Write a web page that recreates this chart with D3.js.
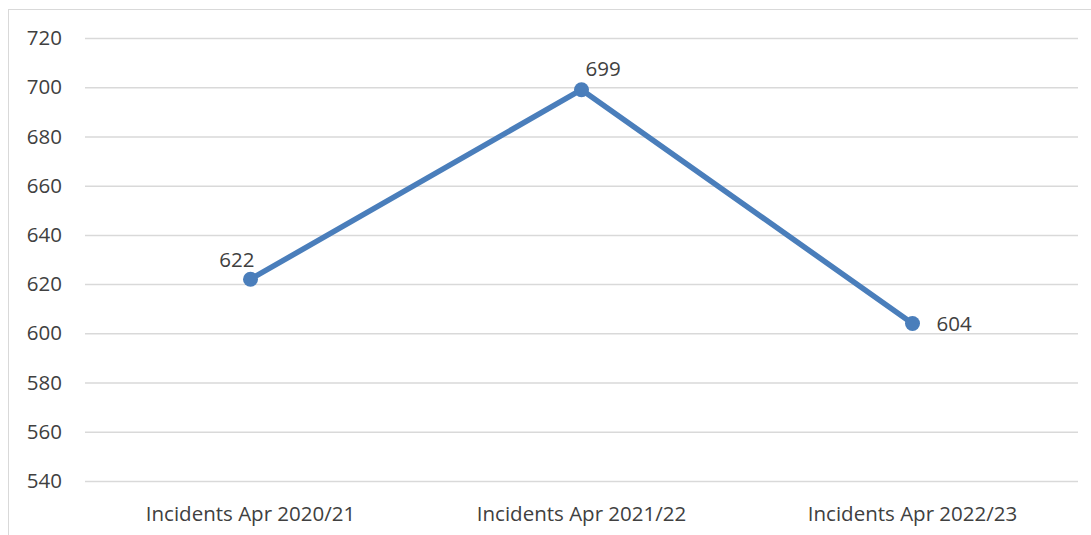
<!DOCTYPE html>
<html>
<head>
<meta charset="utf-8">
<script src="https://cdn.jsdelivr.net/npm/d3@7"></script>
<style>
  body { margin: 0; background: #fff; }
  text { font-family: "Open Sans", "Noto Sans", sans-serif; fill: #404040; }
</style>
</head>
<body>
<svg id="chart" width="1091" height="535"></svg>
<script>
// chart data
const categories = ["Incidents Apr 2020/21", "Incidents Apr 2021/22", "Incidents Apr 2022/23"];
const incidents = [622, 699, 604];
const yTicks = [540, 560, 580, 600, 620, 640, 660, 680, 700, 720];
// where each value label sits relative to its point
const labelSpots = ["above-left", "above-right", "right"];

const svg = d3.select("#chart");
const margin = {left: 85, right: 13, top: 38, bottom: 54};
const W = 1091, H = 535;
const fontSize = 20.5;

// chart area border (only left and top are visible in the frame)
svg.append("rect")
    .attr("x", 8.5).attr("y", 9.5)
    .attr("width", 1100).attr("height", 600)
    .attr("fill", "none").attr("stroke", "#d9d9d9");

const x = d3.scaleBand()
    .domain(categories)
    .range([margin.left, W - margin.right]);

const y = d3.scaleLinear()
    .domain([540, 720])
    .range([H - margin.bottom, margin.top]);

// gridlines + y labels
const yAxis = d3.axisLeft(y)
    .tickValues(yTicks)
    .tickSize(-(W - margin.left - margin.right))
    .tickPadding(23);

const gy = svg.append("g")
    .attr("transform", `translate(${margin.left},0)`)
    .call(yAxis);
gy.select(".domain").remove();
gy.selectAll(".tick line").attr("stroke", "#d9d9d9").attr("stroke-width", 1.5);
gy.selectAll(".tick text")
    .attr("font-size", fontSize)
    .attr("fill", "#595959")
    .style("font-family", "\"Open Sans\", sans-serif");

// x category labels
const xAxis = d3.axisBottom(x).tickSize(0).tickPadding(25);
const gx = svg.append("g")
    .attr("transform", `translate(0,${H - margin.bottom})`)
    .call(xAxis);
gx.select(".domain").remove();
gx.selectAll(".tick text")
    .attr("font-size", fontSize)
    .attr("fill", "#595959")
    .style("font-family", "\"Open Sans\", sans-serif");

const cx = d => x(d) + x.bandwidth() / 2;

const line = d3.line()
    .x((d, i) => cx(categories[i]))
    .y(d => y(d));

svg.append("path")
    .datum(incidents)
    .attr("d", line)
    .attr("fill", "none")
    .attr("stroke", "#4a7ebb")
    .attr("stroke-width", 5.5)
    .attr("stroke-linejoin", "round");

svg.selectAll(".dot")
    .data(incidents)
    .enter()
    .append("circle")
    .attr("class", "dot")
    .attr("cx", (d, i) => cx(categories[i]))
    .attr("cy", d => y(d))
    .attr("r", 7.5)
    .attr("fill", "#4a7ebb");

// value labels
svg.selectAll(".lbl")
    .data(incidents)
    .enter()
    .append("text")
    .attr("class", "lbl")
    .attr("x", (d, i) => {
        let s = labelSpots[i];
        if (s === "above-left") return cx(categories[i]) + 4;
        if (s === "above-right") return cx(categories[i]) + 4;
        return cx(categories[i]) + 24;
    })
    .attr("y", (d, i) => {
        let s = labelSpots[i];
        if (s === "right") return y(d) + 8;
        if (s === "above-left") return y(d) - 12;
        return y(d) - 14;
    })
    .attr("text-anchor", (d, i) => labelSpots[i] === "above-left" ? "end" : "start")
    .attr("font-size", fontSize)
    .attr("fill", "#404040")
    .text(d => d);
</script>
</body>
</html>
